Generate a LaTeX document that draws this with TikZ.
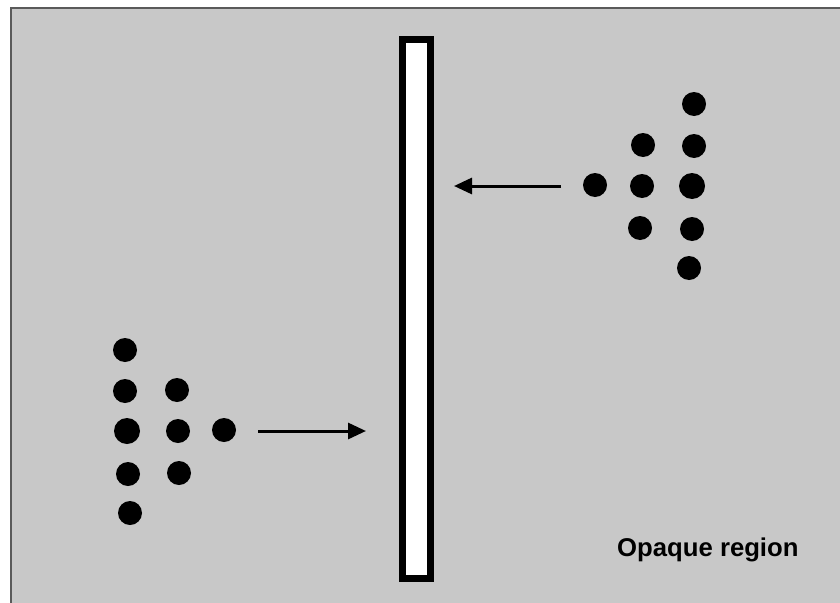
\documentclass[tikz,border=0pt]{standalone}
\usepackage{fontspec}
\setmainfont{Liberation Sans}
\usetikzlibrary{arrows.meta}
\definecolor{bggray}{HTML}{C8C8C8}
\definecolor{edgegray}{HTML}{5A5A5A}
\begin{document}
\begin{tikzpicture}[x=1pt,y=-1pt,
  dot/.style={circle,fill=black,inner sep=0pt,minimum size=24pt},
  bigdot/.style={circle,fill=black,inner sep=0pt,minimum size=26pt},
  flow/.style={line width=3pt,-{Triangle[length=18pt,width=16pt]}}]
\useasboundingbox (0,0) rectangle (840,602);
\fill[white] (0,0) rectangle (840,602);
\fill[bggray] (11,8) rectangle (842,604);
\draw[edgegray,line width=2pt] (11,604) -- (11,8) -- (842,8);
% barrier
\node[draw=black,fill=white,line width=7pt,minimum width=28pt,minimum height=538pt,inner sep=0pt] (bar) at (416,309) {};
% right group
\node[dot] (r1) at (694,104) {};
\node[dot] (r2) at (643,145) {};
\node[dot] (r3) at (694,146) {};
\node[dot] (r4) at (595,185) {};
\node[dot] (r5) at (642,186) {};
\node[bigdot] (r6) at (692,186) {};
\node[dot] (r7) at (640,228) {};
\node[dot] (r8) at (692,229) {};
\node[dot] (r9) at (689,268) {};
% left group
\node[dot] (l1) at (125,350) {};
\node[dot] (l2) at (125,391) {};
\node[dot] (l3) at (177,390) {};
\node[bigdot] (l4) at (127,431) {};
\node[dot] (l5) at (178,431) {};
\node[dot] (l6) at (224,430) {};
\node[dot] (l7) at (128,474) {};
\node[dot] (l8) at (179,473) {};
\node[dot] (l9) at (130,513) {};
% arrows
\coordinate (ra) at (561,186);
\coordinate (rb) at (454,186);
\coordinate (la) at (258,431);
\coordinate (lb) at (366,431);
\draw[flow] (ra) -- (rb);
\draw[flow] (la) -- (lb);
% label
\node[font=\fontsize{25.7}{30}\selectfont\bfseries,anchor=base west,inner sep=0pt] (lbl) at (617,556) {Opaque region};
\end{tikzpicture}
\end{document}
